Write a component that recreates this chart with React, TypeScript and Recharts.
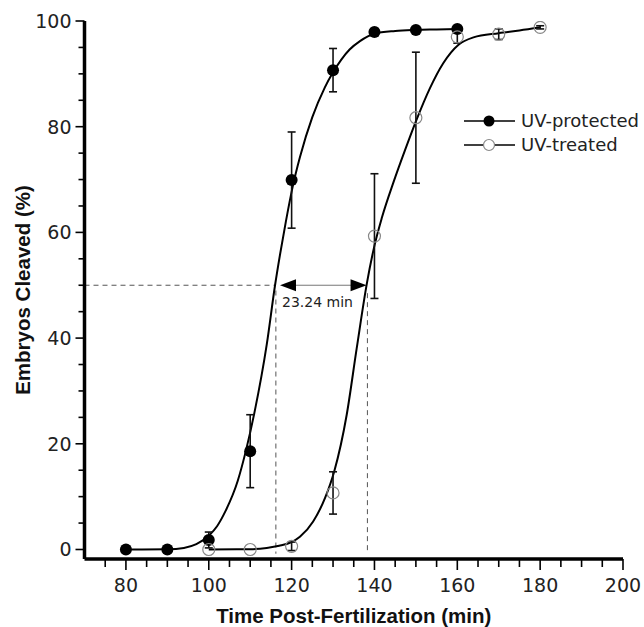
import React from "react";
import {
  ComposedChart,
  Line,
  Scatter,
  ErrorBar,
  XAxis,
  YAxis,
  ReferenceLine,
  Legend,
  Label,
} from "recharts";

const tickFont = "'DejaVu Sans', sans-serif";
const titleFont = "'Liberation Sans', Arial, sans-serif";

// measured means (% cleaved) with SD
const protectedTimes = [80, 90, 100, 110, 120, 130, 140, 150, 160];
const protectedMeans = [0, 0, 1.8, 18.6, 69.9, 90.7, 97.9, 98.3, 98.5];
const protectedErrs = [0, 0, 1.5, 6.9, 9.1, 4.1, 0.5, 0.3, 0.3];

const treatedTimes = [100, 110, 120, 130, 140, 150, 160, 170, 180];
const treatedMeans = [0, 0, 0.6, 10.7, 59.3, 81.7, 97.0, 97.5, 98.8];
const treatedErrs = [0, 0, 0.8, 4.0, 11.8, 12.4, 1.2, 1.0, 0.3];

// fitted curves
const protectedFitX = [80, 90, 94, 97, 100, 102, 104, 107, 109, 111, 114, 116, 117.2, 118.6, 120.3, 122, 125, 128, 130, 132, 134, 136.5, 140, 145, 150, 155, 160];
const protectedFitY = [0, 0.05, 0.3, 1.0, 2.6, 4.4, 7.2, 13, 18.8, 25.8, 38.8, 50, 55.8, 62, 68.8, 74.2, 81.8, 87.4, 90.3, 92.7, 94.6, 96.2, 97.6, 98.1, 98.3, 98.4, 98.5];

const treatedFitX = [100, 110, 114, 117, 120, 122, 125.2, 128.1, 130.3, 133.3, 135.7, 138.2, 140, 141.8, 144.6, 147.4, 150, 153.4, 156.6, 160.3, 163.9, 170, 175, 180];
const treatedFitY = [0, 0.05, 0.3, 0.7, 1.4, 2.4, 5.3, 9.8, 14.8, 25.5, 38, 50.5, 57.5, 62.8, 69.5, 75.6, 81, 87.3, 92, 95.5, 96.9, 97.7, 98.2, 98.8];

const xTicks = [75, 80, 85, 90, 95, 100, 105, 110, 115, 120, 125, 130, 135, 140, 145, 150, 155, 160, 165, 170, 175, 180, 185, 190, 195, 200];
const yTicks = [0, 5, 10, 15, 20, 25, 30, 35, 40, 45, 50, 55, 60, 65, 70, 75, 80, 85, 90, 95, 100];

// half-maximum markers
const halfLevel = 50;
const protectedHalf = 116.2;
const treatedHalf = 138.3;
const shiftLabel = "23.24 min";

const protectedData = protectedTimes.map((x, i) => ({ x, y: protectedMeans[i], err: protectedErrs[i] }));
const treatedData = treatedTimes.map((x, i) => ({ x, y: treatedMeans[i], err: treatedErrs[i] }));
const protectedFit = protectedFitX.map((x, i) => ({ x, y: protectedFitY[i] }));
const treatedFit = treatedFitX.map((x, i) => ({ x, y: treatedFitY[i] }));

const XTick = (props: any) => {
  const { x, y, payload } = props;
  const major = payload.value % 20 === 0;
  return (
    <g>
      <line x1={x} x2={x} y1={y} y2={y + (major ? 11 : 8)} stroke="#000" strokeWidth={1.6} />
      {major && (
        <text x={x} y={y + 33} textAnchor="middle" fontSize={19} fontFamily={tickFont} fill="#222">
          {payload.value}
        </text>
      )}
    </g>
  );
};

const YTick = (props: any) => {
  const { x, y, payload } = props;
  const major = payload.value % 20 === 0;
  return (
    <g>
      <line x1={x} x2={x - (major ? 9 : 6)} y1={y} y2={y} stroke="#000" strokeWidth={1.6} />
      {major && (
        <text x={x - 13} y={y} dy="0.36em" textAnchor="end" fontSize={19} fontFamily={tickFont} fill="#222">
          {payload.value}
        </text>
      )}
    </g>
  );
};

const ArrowShape = (props: any) => {
  const { x1, y1, x2 } = props;
  return (
    <g>
      <line x1={x1 + 12} x2={x2 - 12} y1={y1} y2={y1} stroke="#777" strokeWidth={1} />
      <polygon points={`${x1},${y1} ${x1 + 16},${y1 - 6} ${x1 + 16},${y1 + 6}`} fill="#000" />
      <polygon points={`${x2},${y1} ${x2 - 16},${y1 - 6} ${x2 - 16},${y1 + 6}`} fill="#000" />
      <text x={x1 + 2} y={y1 + 22} fontSize={14} fontFamily={tickFont} fill="#222">
        {shiftLabel}
      </text>
    </g>
  );
};

const FilledDot = (props: any) => <circle cx={props.cx} cy={props.cy} r={6} fill="#000" />;
const OpenDot = (props: any) => (
  <circle cx={props.cx} cy={props.cy} r={6} fill="none" stroke="#888" strokeWidth={1.2} />
);

const LegendBox = () => (
  <svg width={184} height={50} style={{ display: "block" }}>
    <line x1={4} x2={55} y1={12} y2={12} stroke="#000" strokeWidth={1.5} />
    <circle cx={29} cy={12} r={5.5} fill="#000" />
    <text x={61} y={12} dy="0.36em" fontSize={18} fontFamily={tickFont} fill="#222">
      UV-protected
    </text>
    <line x1={4} x2={55} y1={36} y2={36} stroke="#000" strokeWidth={1.5} />
    <circle cx={29} cy={36} r={5.5} fill="#fff" stroke="#888" strokeWidth={1.2} />
    <text x={61} y={36} dy="0.36em" fontSize={18} fontFamily={tickFont} fill="#222">
      UV-treated
    </text>
  </svg>
);

const YTitle = (props: any) => {
  const { viewBox } = props;
  const cx = viewBox.x + 22;
  const cy = viewBox.y + viewBox.height / 2;
  return (
    <text
      x={cx}
      y={cy}
      transform={`rotate(-90, ${cx}, ${cy})`}
      textAnchor="middle"
      dominantBaseline="central"
      fontSize={20.5}
      fontWeight="bold"
      fontFamily={titleFont}
      fill="#111"
    >
      Embryos Cleaved (%)
    </text>
  );
};

const XTitle = (props: any) => {
  const { viewBox } = props;
  return (
    <text
      x={viewBox.x + viewBox.width / 2}
      y={viewBox.y + 64}
      textAnchor="middle"
      fontSize={20.5}
      fontWeight="bold"
      fontFamily={titleFont}
      fill="#111"
    >
      Time Post-Fertilization (min)
    </text>
  );
};

export default function App() {
  return (
    <div style={{ position: "absolute", left: 0, top: 0, width: 644, height: 627, background: "#fff" }}>
      <ComposedChart width={644} height={627} margin={{ top: 21, right: 21, bottom: 0, left: 0 }}>
        <XAxis
          dataKey="x"
          type="number"
          domain={[70, 200]}
          ticks={xTicks}
          interval={0}
          tick={XTick}
          tickLine={false}
          tickSize={0}
          tickMargin={0}
          axisLine={{ stroke: "#000", strokeWidth: 3.5 }}
          height={68}
          allowDataOverflow
        >
          <Label content={XTitle} />
        </XAxis>
        <YAxis
          type="number"
          domain={[-1.8, 100]}
          ticks={yTicks}
          interval={0}
          tick={YTick}
          tickLine={false}
          tickSize={0}
          tickMargin={0}
          axisLine={{ stroke: "#000", strokeWidth: 3.5 }}
          width={84.5}
          allowDataOverflow
        >
          <Label content={YTitle} />
        </YAxis>

        <ReferenceLine
          segment={[{ x: 70, y: halfLevel }, { x: protectedHalf, y: halfLevel }]}
          stroke="#555"
          strokeDasharray="5 4"
          strokeWidth={1}
        />
        <ReferenceLine
          segment={[{ x: protectedHalf, y: halfLevel - 1 }, { x: protectedHalf, y: -0.8 }]}
          stroke="#555"
          strokeDasharray="5 4"
          strokeWidth={1}
        />
        <ReferenceLine
          segment={[{ x: treatedHalf, y: halfLevel - 1.5 }, { x: treatedHalf, y: -0.8 }]}
          stroke="#555"
          strokeDasharray="5 4"
          strokeWidth={1}
        />
        <ReferenceLine
          segment={[{ x: protectedHalf + 1, y: halfLevel }, { x: treatedHalf - 0.2, y: halfLevel }]}
          shape={ArrowShape}
        />

        <Line
          data={protectedFit}
          dataKey="y"
          type="monotone"
          stroke="#000"
          strokeWidth={2}
          dot={false}
          activeDot={false}
          legendType="none"
          isAnimationActive={false}
        />
        <Line
          data={treatedFit}
          dataKey="y"
          type="monotone"
          stroke="#000"
          strokeWidth={2}
          dot={false}
          activeDot={false}
          legendType="none"
          isAnimationActive={false}
        />
        <Scatter data={protectedData} dataKey="y" name="UV-protected" shape={FilledDot} isAnimationActive={false}>
          <ErrorBar dataKey="err" direction="y" width={4} stroke="#111" strokeWidth={1.6} />
        </Scatter>
        <Scatter data={treatedData} dataKey="y" name="UV-treated" shape={OpenDot} isAnimationActive={false}>
          <ErrorBar dataKey="err" direction="y" width={4} stroke="#111" strokeWidth={1.6} />
        </Scatter>

        <Legend
          layout="horizontal"
          verticalAlign="middle"
          align="center"
          content={() => <LegendBox />}
          wrapperStyle={{ position: "absolute", left: 460, top: 109, width: 184 }}
        />
      </ComposedChart>
    </div>
  );
}
